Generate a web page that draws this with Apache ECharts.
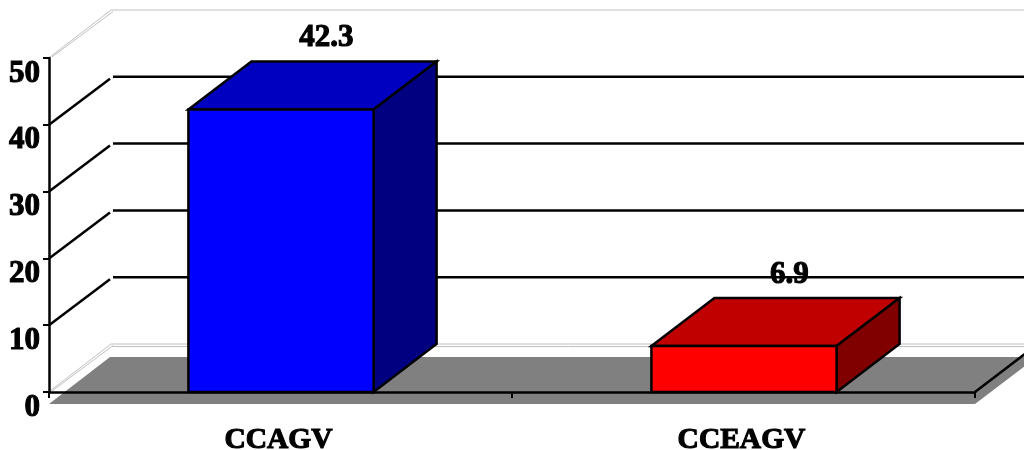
<!DOCTYPE html>
<html>
<head>
<meta charset="utf-8">
<style>html,body{margin:0;padding:0;background:#fff}#c{width:1024px;height:450px}</style>
<script src="https://cdn.jsdelivr.net/npm/echarts@6/dist/echarts.min.js"></script>
</head>
<body>
<div id="c"></div>
<script>
const categories = ['CCAGV', 'CCEAGV'];
const values = [42.3, 6.9];
const labels = ['42.3', '6.9'];
const yTicks = [0, 10, 20, 30, 40, 50];
const frontColors = ['#0000FF', '#FF0000'];
const topColors = ['#0000C0', '#C00000'];
const sideColors = ['#000080', '#800000'];

const DX = 63, DY = -48, FLOOR_DROP = 12, FAR = 1100;
const FONT = '"Liberation Serif","Times New Roman",serif';
const INK = { color: '#000', fontFamily: FONT, fontWeight: 'bold', textBorderColor: '#000', textBorderWidth: 1.1 };

function line(x1, y1, x2, y2, stroke, w) {
  return { type: 'line', shape: { x1, y1, x2, y2 }, style: { stroke, lineWidth: w, fill: null } };
}
function poly(points, fill, stroke) {
  return { type: 'polygon', shape: { points }, style: { fill, stroke: stroke || null, lineWidth: stroke ? 2.5 : 0, lineJoin: 'miter' } };
}

function renderFloor(params, api) {
  const c = params.coordSys, y0 = api.coord([0, 0])[1], xl = c.x, xr = c.x + c.width, t = FLOOR_DROP;
  const k = (FAR - xr) / DX;
  return { type: 'group', children: [
    poly([[xl, y0 + t], [xl + DX - 2, y0 + t + DY + 1], [FAR, y0 + t + DY + 1], [FAR, y0 + t + DY * k], [xr, y0 + t]], '#808080'),
    line(xr, y0, FAR, y0 + DY * k, '#000', 2.5)
  ] };
}

function renderWall(params, api) {
  const c = params.coordSys, v = api.value(1), y = api.coord([0, v])[1], xl = c.x;
  if (v === 0 || v === 50) {
    const g = '#c0c0c0', h = v === 0 ? 2.5 : 0;
    const kids = [
      line(xl + 1, y - 1, xl + DX - 1, y + DY, g, 1),
      line(xl + 3, y - 1, xl + DX + 1, y + DY + 1.5, g, 1),
      line(xl + DX - 1, y + DY, FAR, y + DY, g, 1)
    ];
    if (h) kids.push(line(xl + DX, y + DY + h, FAR, y + DY + h, g, 1));
    return { type: 'group', children: kids };
  }
  return { type: 'group', children: [
    line(xl, y, xl + DX - 2, y + DY + 2, '#000', 2.5),
    line(xl + DX + 1, y + DY, FAR, y + DY, '#000', 2.5)
  ] };
}

function renderBar(params, api) {
  const i = params.dataIndex, cx = api.coord([api.value(0), 0])[0];
  const w = api.size([1, 0])[0] * 0.4, top = api.coord([0, api.value(1)])[1], y0 = api.coord([0, 0])[1];
  const l = cx - w / 2 + 0.5, r = cx + w / 2 + 0.5;
  return { type: 'group', children: [
    poly([[l, top], [r, top], [r + DX, top + DY], [l + DX, top + DY]], topColors[i], '#000'),
    poly([[r, top], [r + DX, top + DY], [r + DX, y0 + DY], [r, y0]], sideColors[i], '#000'),
    poly([[l, top], [r, top], [r, y0], [l, y0]], frontColors[i], '#000'),
    { type: 'text', x: cx + DX * 0.73, y: top + DY * 1.48,
      style: { text: labels[i], fill: '#000', stroke: '#000', lineWidth: 1.1,
        font: 'bold 31px ' + FONT, align: 'center', verticalAlign: 'middle' } }
  ] };
}

const chart = echarts.init(document.getElementById('c'), null, { renderer: 'canvas' });
chart.setOption({
  animation: false,
  backgroundColor: '#fff',
  grid: { left: 49, right: 49, top: 58, bottom: 58, containLabel: false, outerBoundsMode: 'none' },
  xAxis: {
    type: 'category', data: categories, z: 5,
    axisLine: { lineStyle: { color: '#000', width: 2.5 } },
    axisTick: { show: true, length: 6, lineStyle: { color: '#000', width: 2 } },
    axisLabel: Object.assign({ fontSize: 29.5, margin: 33, interval: 0, padding: [0, 4, 0, 0] }, INK),
    splitLine: { show: false }
  },
  yAxis: {
    type: 'value', min: 0, max: 50, interval: 10, z: 5,
    axisLine: { show: true, lineStyle: { color: '#000', width: 2.5 } },
    axisTick: { show: true, length: 6, lineStyle: { color: '#000', width: 2 } },
    axisLabel: Object.assign({ fontSize: 31, margin: 9, verticalAlign: 'top', showMinLabel: true, showMaxLabel: true }, INK),
    splitLine: { show: false }
  },
  series: [
    { type: 'custom', z: 1, silent: true, renderItem: renderFloor, data: [[0, 0]] },
    { type: 'custom', z: 2, silent: true, renderItem: renderWall, data: yTicks.map(t => [0, t]) },
    { type: 'custom', z: 3, silent: true, renderItem: renderBar, data: values.map((v, i) => [i, v]) }
  ]
});
</script>
</body>
</html>
